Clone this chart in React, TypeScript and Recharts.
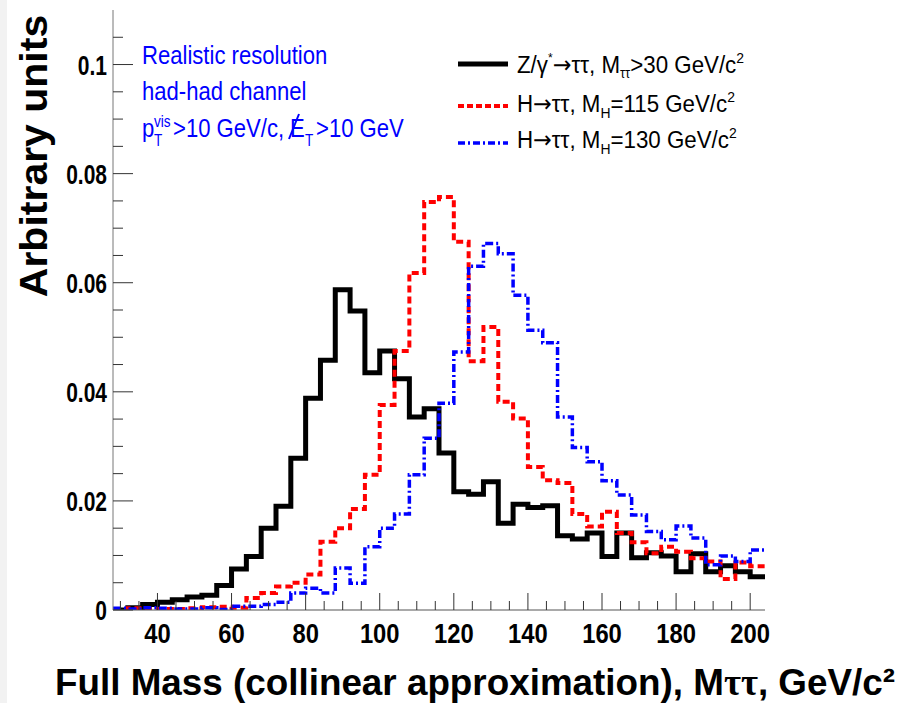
import React from 'react';
import { LineChart, Line, XAxis, YAxis, Customized } from 'recharts';

// histogram bins, 4 GeV wide, lower edges from 28 to 200
const binEdges = [
  28, 32, 36, 40, 44, 48, 52, 56, 60, 64, 68, 72, 76, 80, 84, 88, 92, 96, 100, 104, 108, 112,
  116, 120, 124, 128, 132, 136, 140, 144, 148, 152, 156, 160, 164, 168, 172, 176, 180, 184, 188,
  192, 196, 200,
];
const upperEdge = 204;

// Z/gamma* -> tautau
const zValues = [
  0.0, 0.0004, 0.001, 0.0014, 0.0019, 0.0024, 0.0027, 0.0045, 0.0075, 0.0098, 0.015, 0.019,
  0.0278, 0.0388, 0.0458, 0.0587, 0.0548, 0.0435, 0.0475, 0.0424, 0.0354, 0.0369, 0.0288, 0.0217,
  0.0212, 0.0235, 0.0159, 0.0194, 0.0188, 0.0191, 0.0136, 0.013, 0.0141, 0.0098, 0.0141, 0.0096,
  0.0105, 0.0099, 0.007, 0.0103, 0.007, 0.0081, 0.007, 0.0061,
];

// H -> tautau, MH = 115
const h115Values = [
  0.0002, 0.0003, 0.0002, 0.0002, 0.0002, 0.0003, 0.0005, 0.0006, 0.0004, 0.0022, 0.0031, 0.0043,
  0.005, 0.0065, 0.0125, 0.015, 0.0185, 0.0248, 0.0376, 0.0475, 0.0618, 0.0748, 0.0757, 0.0675,
  0.0456, 0.0519, 0.0382, 0.0351, 0.0262, 0.0238, 0.0233, 0.0176, 0.0153, 0.018, 0.0141, 0.0124,
  0.0104, 0.0116, 0.0107, 0.0095, 0.0089, 0.0057, 0.0087, 0.008,
];

// H -> tautau, MH = 130
const h130Values = [
  0.0003, 0.0002, 0.0004, 0.0003, 0.0002, 0.0002, 0.0004, 0.0001, 0.0007, 0.0007, 0.001, 0.0014,
  0.0031, 0.004, 0.0031, 0.0077, 0.0049, 0.0116, 0.015, 0.0176, 0.0248, 0.0315, 0.0379, 0.0473,
  0.063, 0.0672, 0.0653, 0.0577, 0.0513, 0.049, 0.0354, 0.0298, 0.0272, 0.0237, 0.0211, 0.0174,
  0.0144, 0.0129, 0.0154, 0.0132, 0.0083, 0.0099, 0.0089, 0.011,
];

const xTicks = [
  30, 35, 40, 45, 50, 55, 60, 65, 70, 75, 80, 85, 90, 95, 100, 105, 110, 115, 120, 125, 130, 135,
  140, 145, 150, 155, 160, 165, 170, 175, 180, 185, 190, 195, 200,
];
const xLabelTicks = [40, 60, 80, 100, 120, 140, 160, 180, 200];

const yTicks = [
  0, 0.005, 0.01, 0.015, 0.02, 0.025, 0.03, 0.035, 0.04, 0.045, 0.05, 0.055, 0.06, 0.065, 0.07,
  0.075, 0.08, 0.085, 0.09, 0.095, 0.1, 0.105,
];
const yLabelTicks = [0, 0.02, 0.04, 0.06, 0.08, 0.1];
const yLabelTexts = ['0', '0.02', '0.04', '0.06', '0.08', '0.1'];

const chartData = binEdges.map((x, i) => ({
  x,
  z: zValues[i],
  h115: h115Values[i],
  h130: h130Values[i],
}));
// closing point so the last bin gets its full width
chartData.push({
  x: upperEdge,
  z: zValues[zValues.length - 1],
  h115: h115Values[h115Values.length - 1],
  h130: h130Values[h130Values.length - 1],
});

const FONT = '"Liberation Sans", Arial, Helvetica, sans-serif';
const ARROW_FONT = '"DejaVu Sans", sans-serif';
const SQ = 0.85; // the original is a bit squeezed horizontally
const TICK = '#333';
const FRAME = '#777';

const isXMajor = (v: number) => xLabelTicks.includes(v);
const yLabelIndex = (v: number) => yLabelTicks.findIndex((t) => Math.abs(t - v) < 1e-9);

const BottomTick = (props: any) => {
  const { x, y, payload } = props;
  const major = isXMajor(payload.value);
  return (
    <g>
      <line x1={x} x2={x} y1={y} y2={y - (major ? 17 : 9)} stroke={TICK} />
      {major && (
        <text
          transform={`translate(${x} ${y + 33}) scale(${SQ} 1)`}
          textAnchor="middle"
          fontFamily={FONT}
          fontWeight="bold"
          fontSize={28}
          fill="#000"
        >
          {payload.value}
        </text>
      )}
    </g>
  );
};

const TopTick = (props: any) => {
  const { x, y, payload } = props;
  const major = isXMajor(payload.value);
  return <line x1={x} x2={x} y1={y} y2={y + (major ? 18 : 8)} stroke={TICK} />;
};

const LeftTick = (props: any) => {
  const { x, y, payload } = props;
  const idx = yLabelIndex(payload.value);
  const major = idx >= 0;
  return (
    <g>
      <line x1={x} x2={x + (major ? 20 : 10)} y1={y} y2={y} stroke={TICK} />
      {major && (
        <text
          transform={`translate(${x - 6} ${y + 10}) scale(0.75 1)`}
          textAnchor="end"
          fontFamily={FONT}
          fontWeight="bold"
          fontSize={28}
          fill="#000"
        >
          {yLabelTexts[idx]}
        </text>
      )}
    </g>
  );
};

const RightTick = (props: any) => {
  const { x, y, payload } = props;
  const major = yLabelIndex(payload.value) >= 0;
  return <line x1={x} x2={x - (major ? 20 : 10)} y1={y} y2={y} stroke={TICK} />;
};

const Squeezed = ({ x, y, size, color, bold, sq = SQ, children }: any) => (
  <text
    transform={`translate(${x} ${y}) scale(${sq} 1)`}
    fontFamily={FONT}
    fontSize={size}
    fontWeight={bold ? 'bold' : 'normal'}
    fill={color}
  >
    {children}
  </text>
);

const LEG_SQ = 0.93;

const Annotations = () => {
  const blue = '#0000ff';
  return (
    <g>
      {/* axis titles */}
      <text
        transform="translate(47 156) scale(0.95 1) rotate(-90)"
        textAnchor="middle"
        fontFamily={FONT}
        fontWeight="bold"
        fontSize={41}
        fill="#000"
      >
        Arbitrary units
      </text>
      <text
        x={55}
        y={695}
        textLength={840}
        lengthAdjust="spacingAndGlyphs"
        fontFamily={FONT}
        fontWeight="bold"
        fontSize={37}
        fill="#000"
      >
        Full Mass (collinear approximation), M
        <tspan fontFamily='"Liberation Serif", "DejaVu Serif", serif'>ττ</tspan>, GeV/c²
      </text>

      {/* info box */}
      <Squeezed x={142} y={64} size={26} color={blue}>Realistic resolution</Squeezed>
      <Squeezed x={142} y={100} size={26} color={blue}>had-had channel</Squeezed>
      <Squeezed x={142} y={137} size={26} color={blue}>p</Squeezed>
      <Squeezed x={154} y={127} size={16} color={blue}>vis</Squeezed>
      <Squeezed x={154} y={146} size={16} color={blue}>T</Squeezed>
      <Squeezed x={173} y={137} size={26} color={blue}>&gt;10 GeV/c,</Squeezed>
      <Squeezed x={290} y={137} size={26} color={blue}>E</Squeezed>
      <line x1={289} y1={139} x2={299} y2={114} stroke={blue} strokeWidth={2} />
      <Squeezed x={305} y={146} size={16} color={blue}>T</Squeezed>
      <Squeezed x={316} y={137} size={26} color={blue}>&gt;10 GeV</Squeezed>

      {/* legend */}
      <line x1={458} x2={508} y1={64} y2={64} stroke="#000" strokeWidth={5} />
      <line x1={458} x2={508} y1={106} y2={106} stroke="#ff0000" strokeWidth={4} strokeDasharray="6 3" />
      <line x1={458} x2={508} y1={143} y2={143} stroke="#0000ff" strokeWidth={3.5} strokeDasharray="7 3 2 3" />
      <Squeezed x={517} y={73} size={24} color="#000" sq={LEG_SQ}>
        Z/γ<tspan dy={-11} fontSize={13}>*</tspan>
        <tspan dy={11} fontFamily={ARROW_FONT}>→</tspan>
        <tspan>ττ, M</tspan>
        <tspan dy={5} fontSize={14}>ττ</tspan>
        <tspan dy={-5}>&gt;30 GeV/c</tspan>
        <tspan dy={-10} fontSize={15}>2</tspan>
      </Squeezed>
      <Squeezed x={517} y={112} size={24} color="#000" sq={LEG_SQ}>
        H<tspan fontFamily={ARROW_FONT}>→</tspan>
        <tspan>ττ, M</tspan>
        <tspan dy={6} fontSize={15}>H</tspan>
        <tspan dy={-6}>=115 GeV/c</tspan>
        <tspan dy={-10} fontSize={15}>2</tspan>
      </Squeezed>
      <Squeezed x={517} y={148} size={24} color="#000" sq={LEG_SQ}>
        H<tspan fontFamily={ARROW_FONT}>→</tspan>
        <tspan>ττ, M</tspan>
        <tspan dy={6} fontSize={15}>H</tspan>
        <tspan dy={-6}>=130 GeV/c</tspan>
        <tspan dy={-10} fontSize={15}>2</tspan>
      </Squeezed>
    </g>
  );
};

export default function App() {
  return (
    <div style={{ position: 'absolute', left: 0, top: 0, width: 903, height: 703, background: '#fff' }}>
      <div style={{ position: 'absolute', left: 0, top: 0, width: 7, height: 703, background: '#f2f2f2' }} />
      <LineChart
        width={903}
        height={703}
        data={chartData}
        margin={{ top: 10, right: 138, bottom: 0, left: 0 }}
      >
        <XAxis
          xAxisId="b"
          dataKey="x"
          type="number"
          domain={[28, 204]}
          allowDataOverflow
          ticks={xTicks}
          interval={0}
          height={93}
          tickSize={0}
          tickMargin={0}
          tick={<BottomTick />}
          axisLine={{ stroke: '#555' }}
        />
        <XAxis
          xAxisId="t"
          orientation="top"
          dataKey="x"
          type="number"
          domain={[28, 204]}
          allowDataOverflow
          ticks={xTicks}
          interval={0}
          height={0}
          tickSize={0}
          tickMargin={0}
          tick={<TopTick />}
          axisLine={{ stroke: FRAME }}
        />
        <YAxis
          yAxisId="l"
          type="number"
          domain={[0, 0.11]}
          allowDataOverflow
          ticks={yTicks}
          interval={0}
          width={113}
          tickSize={0}
          tickMargin={0}
          tick={<LeftTick />}
          axisLine={{ stroke: FRAME }}
        />
        <YAxis
          yAxisId="r"
          orientation="right"
          type="number"
          domain={[0, 0.11]}
          allowDataOverflow
          ticks={yTicks}
          interval={0}
          width={0}
          tickSize={0}
          tickMargin={0}
          tick={<RightTick />}
          axisLine={{ stroke: '#a08080' }}
        />
        <Line
          xAxisId="b"
          yAxisId="l"
          type="stepAfter"
          dataKey="z"
          stroke="#000"
          strokeWidth={5}
          dot={false}
          isAnimationActive={false}
        />
        <Line
          xAxisId="b"
          yAxisId="l"
          type="stepAfter"
          dataKey="h115"
          stroke="#ff0000"
          strokeWidth={4}
          strokeDasharray="7 4"
          dot={false}
          isAnimationActive={false}
        />
        <Line
          xAxisId="b"
          yAxisId="l"
          type="stepAfter"
          dataKey="h130"
          stroke="#0000ff"
          strokeWidth={3.5}
          strokeDasharray="8 3 2 3"
          dot={false}
          isAnimationActive={false}
        />
        <Customized component={Annotations} />
      </LineChart>
    </div>
  );
}
